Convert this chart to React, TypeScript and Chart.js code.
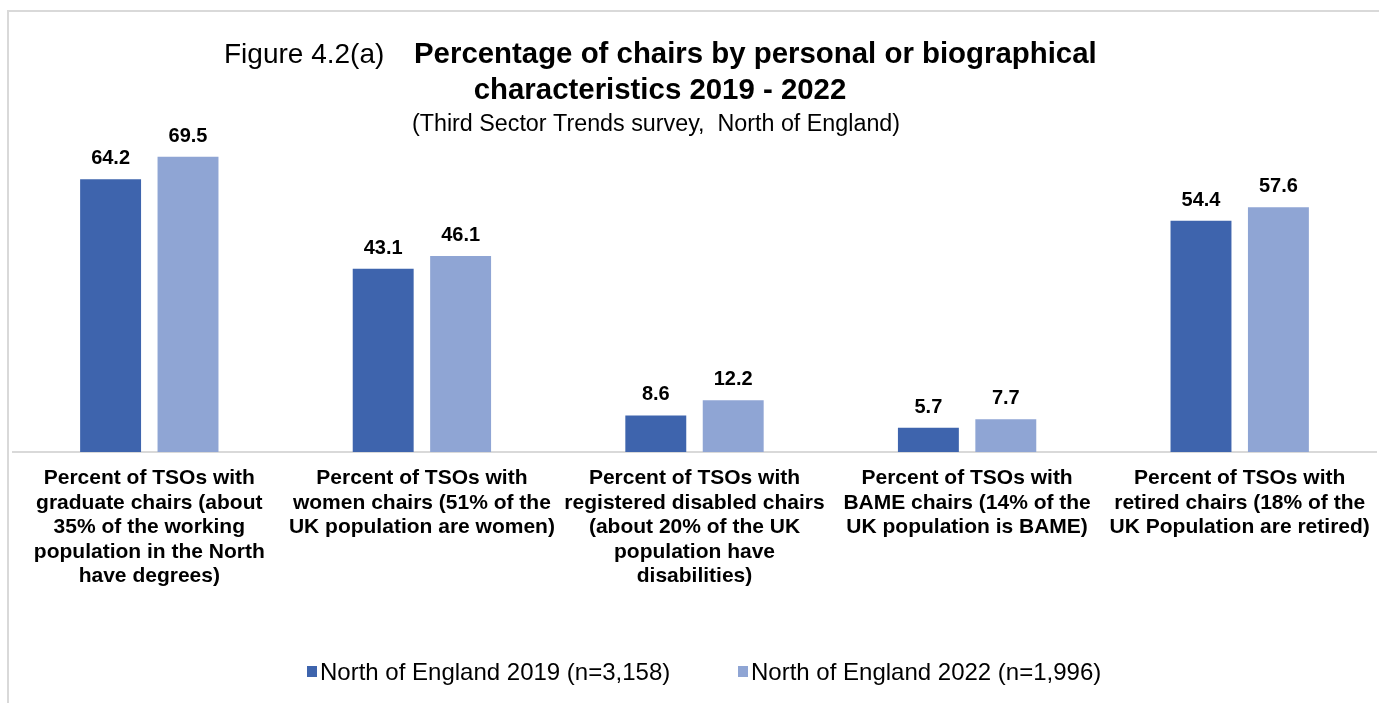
import React, { useEffect, useRef } from 'react';
import { Chart, registerables } from 'chart.js';

Chart.register(...registerables);

const categories: string[][] = [
  ['Percent of TSOs with', 'graduate chairs (about', '35% of the working', 'population in the North', 'have degrees)'],
  ['Percent of TSOs with', 'women chairs (51% of the', 'UK population are women)'],
  ['Percent of TSOs with', 'registered disabled chairs', '(about 20% of the UK', 'population have', 'disabilities)'],
  ['Percent of TSOs with', 'BAME chairs (14% of the', 'UK population is BAME)'],
  ['Percent of TSOs with', 'retired chairs (18% of the', 'UK Population are retired)'],
];
const values2019: number[] = [64.2, 43.1, 8.6, 5.7, 54.4];
const values2022: number[] = [69.5, 46.1, 12.2, 7.7, 57.6];
const seriesNames: string[] = ['North of England 2019 (n=3,158)', 'North of England 2022 (n=1,996)'];
const seriesColors: string[] = ['#3E64AD', '#8FA5D4'];
const titlePrefix = 'Figure 4.2(a)';
const titleLines: string[] = ['Percentage of chairs by personal or biographical', 'characteristics 2019 - 2022'];
const subtitle = '(Third Sector Trends survey,  North of England)';
const yMin = 0;
const yMax = 80;

const FONT = '"Liberation Sans", Arial, Helvetica, sans-serif';

const decorPlugin = {
  id: 'decor',
  afterDatasetsDraw(chart: any) {
    const ctx = chart.ctx;
    ctx.save();
    ctx.fillStyle = '#000';
    ctx.font = `bold 20px ${FONT}`;
    ctx.textAlign = 'center';
    ctx.textBaseline = 'alphabetic';
    chart.data.datasets.forEach((ds: any, di: number) => {
      const meta = chart.getDatasetMeta(di);
      meta.data.forEach((el: any, i: number) => {
        const v = ds.data[i] as number;
        ctx.fillText(v.toFixed(1), el.x, el.y - 15);
      });
    });
    ctx.restore();
  },
  afterDraw(chart: any) {
    const ctx = chart.ctx;
    ctx.save();
    ctx.fillStyle = '#000';
    ctx.textBaseline = 'alphabetic';
    // Title line 1
    ctx.textAlign = 'left';
    ctx.font = `28px ${FONT}`;
    ctx.fillText(titlePrefix, 224, 63);
    ctx.font = `bold 29.4px ${FONT}`;
    ctx.fillText(titleLines[0], 414, 63);
    // Title line 2
    ctx.textAlign = 'center';
    ctx.fillText(titleLines[1], 660, 99);
    // Subtitle
    ctx.font = `23.3px ${FONT}`;
    ctx.fillText(subtitle, 656, 131);

    // Legend
    ctx.textAlign = 'left';
    ctx.font = `24px ${FONT}`;
    const xs = [307, 738];
    seriesNames.forEach((name, i) => {
      ctx.fillStyle = seriesColors[i];
      ctx.fillRect(xs[i], 666, 10, 11);
      ctx.fillStyle = '#000';
      ctx.fillText(name, xs[i] + 13, 680);
    });
    ctx.restore();
  },
};

export default function App() {
  const canvasRef = useRef<HTMLCanvasElement | null>(null);

  useEffect(() => {
    if (!canvasRef.current) return;
    const chart = new Chart(canvasRef.current, {
      type: 'bar',
      data: {
        labels: categories,
        datasets: [
          {
            label: seriesNames[0],
            data: values2019,
            backgroundColor: seriesColors[0],
            barPercentage: 0.787,
            categoryPercentage: 0.568,
          },
          {
            label: seriesNames[1],
            data: values2022,
            backgroundColor: seriesColors[1],
            barPercentage: 0.787,
            categoryPercentage: 0.568,
          },
        ],
      },
      options: {
        responsive: false,
        animation: false,
        devicePixelRatio: 1,
        layout: { padding: { left: 13, right: 3, top: 112, bottom: 0 } },
        plugins: {
          legend: { display: false },
          title: { display: false },
          tooltip: { enabled: false },
        },
        scales: {
          x: {
            grid: { display: false, drawTicks: false },
            border: { display: true, color: '#D9D9D9', width: 2 },
            ticks: {
              color: '#000',
              font: { family: FONT, size: 21, weight: 'bold', lineHeight: 1.17 },
              padding: 14,
              maxRotation: 0,
              minRotation: 0,
              autoSkip: false,
            },
            afterFit: (s: any) => {
              s.height = 251;
              s.paddingLeft = 0;
              s.paddingRight = 0;
            },
          },
          y: { display: false, min: yMin, max: yMax },
        },
      },
      plugins: [decorPlugin],
    } as any);
    return () => chart.destroy();
  }, []);

  return (
    <div style={{ position: 'fixed', left: 0, top: 0, width: 1379, height: 703, background: '#fff' }}>
      <div
        style={{
          position: 'absolute',
          left: 7,
          top: 10,
          right: 0,
          bottom: 0,
          borderLeft: '2px solid #D9D9D9',
          borderTop: '2px solid #D9D9D9',
        }}
      />
      <canvas ref={canvasRef} width={1379} height={703} style={{ position: 'absolute', left: 0, top: 0 }} />
    </div>
  );
}
